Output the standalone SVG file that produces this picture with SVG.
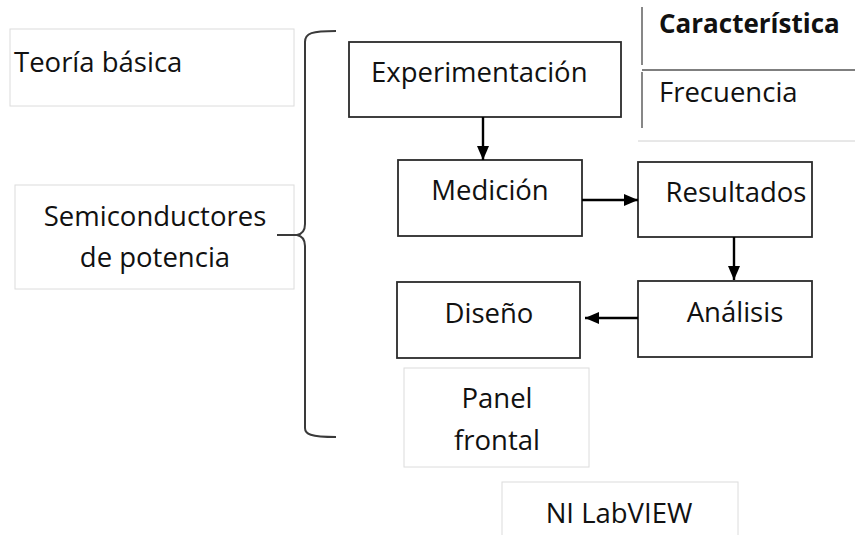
<svg xmlns="http://www.w3.org/2000/svg" width="855" height="535" viewBox="0 0 855 535">
<style>
text{font-family:"Open Sans","Liberation Sans",sans-serif;font-size:27.5px;fill:#111}
.b{font-weight:bold;font-size:26px}
.m{text-anchor:middle}
.dark{fill:#fff;stroke:#2b2b2b;stroke-width:1.8}
.light{fill:#fff;stroke:#dcdcdc;stroke-width:1}
.ln{fill:none;stroke:#000;stroke-width:2.4}
.brace{fill:none;stroke:#3a3a3a;stroke-width:2}
.tbl{fill:none;stroke:#555;stroke-width:1.4}
</style>
<defs>
<marker id="ah" viewBox="0 0 14 12" refX="14" refY="6" markerWidth="14" markerHeight="12" markerUnits="userSpaceOnUse" orient="auto">
<path d="M0,0 L14,6 L0,12 Z" fill="#000"/>
</marker>
</defs>
<rect width="855" height="535" fill="#fff"/>
<g id="teoria">
<rect class="light" x="10" y="29" width="284" height="77"/>
<text x="14" y="72">Teoría básica</text>
</g>
<g id="semiconductores">
<rect class="light" x="15" y="185" width="279" height="104"/>
<text class="m" x="155" y="226">Semiconductores</text>
<text class="m" x="155" y="267">de potencia</text>
</g>
<g id="llave">
<path class="brace" d="M336,31 C312,31 305,33 305,42 V224 C305,231 302,234 297,235 C302,236 305,239 305,246 V428 C305,434 310,437 336,437"/>
<path class="brace" d="M277,235 H298"/>
</g>
<g id="tabla">
<path class="tbl" d="M642,7 V65 M642,70 H855 M642,72 V128"/>
<path d="M638,141 H855" stroke="#d0d0d0" stroke-width="1" fill="none"/>
<text class="b" x="659" y="33">Característica</text>
<text x="659" y="102">Frecuencia</text>
</g>
<g id="experimentacion">
<rect class="dark" x="349" y="42" width="272" height="75"/>
<text x="371" y="82">Experimentación</text>
</g>
<g id="medicion">
<rect class="dark" x="398" y="160" width="184" height="76"/>
<text class="m" x="490" y="200">Medición</text>
</g>
<g id="resultados">
<rect class="dark" x="638" y="162" width="174" height="75"/>
<text class="m" x="736" y="202">Resultados</text>
</g>
<g id="analisis">
<rect class="dark" x="638" y="281" width="174" height="76"/>
<text class="m" x="735" y="322">Análisis</text>
</g>
<g id="diseno">
<rect class="dark" x="397" y="282" width="183" height="76"/>
<text class="m" x="489" y="323">Diseño</text>
</g>
<g id="panel">
<rect class="light" x="404" y="368" width="185" height="99"/>
<text class="m" x="497" y="408">Panel</text>
<text class="m" x="497" y="450">frontal</text>
</g>
<g id="labview">
<rect class="light" x="502" y="482" width="236" height="60"/>
<text class="m" x="619" y="523">NI LabVIEW</text>
</g>
<g id="conectores">
<path class="ln" d="M483,117 V160" marker-end="url(#ah)"/>
<path class="ln" d="M582,200 H638" marker-end="url(#ah)"/>
<path class="ln" d="M734,237 V280" marker-end="url(#ah)"/>
<path class="ln" d="M638,318 H585" marker-end="url(#ah)"/>
</g>
</svg>
